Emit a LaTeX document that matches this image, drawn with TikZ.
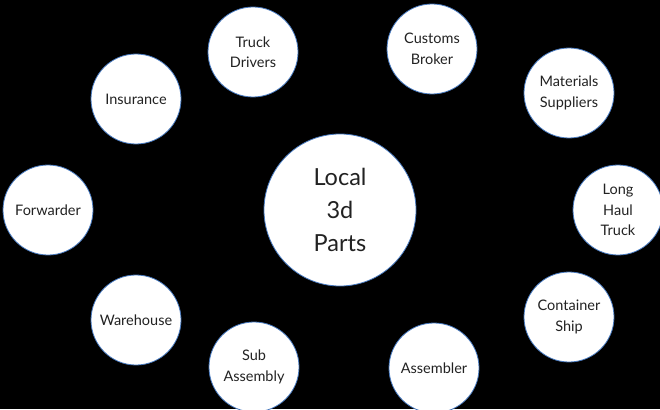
\documentclass[tikz,border=0pt]{standalone}
\usepackage{fontspec}
\setmainfont{Lato}
\usepackage{xcolor}
\usepackage{tikz}
\definecolor{rimblue}{RGB}{70,120,190}
\definecolor{inkgrey}{RGB}{34,34,34}

\begin{document}
\begin{tikzpicture}[
    x=1pt, y=-1pt,
    party/.style={circle, draw=rimblue, line width=0.8pt, fill=white, text=inkgrey, minimum size=90pt, inner sep=1pt, align=center, font=\fontsize{14.5}{20.5}\selectfont},
    hub/.style={party, minimum size=152pt, font=\fontsize{23.5}{33}\selectfont}
  ]

    % Background and frame
    \fill[black] (0,0) rectangle (660,409);
    \clip (0,0) rectangle (660,409);

    % Centre
    \node[hub] (local) at (340,210) {Local\\3d\\Parts};

    % Ring of partners
    \node[party] (drivers) at (253,52) {Truck\\Drivers};
    \node[party] (customs) at (432,49) {Customs\\Broker};
    \node[party] (materials) at (569,93) {Materials\\Suppliers};
    \node[party] (longhaul) at (618,210) {Long\\Haul\\Truck};
    \node[party] (ship) at (569,317) {Container\\Ship};
    \node[party] (assembler) at (434,368) {Assembler};
    \node[party] (subassy) at (254,367) {Sub\\Assembly};
    \node[party] (warehouse) at (136,320) {Warehouse};
    \node[party] (forwarder) at (48,210) {Forwarder};
    \node[party] (insurance) at (136,99) {Insurance};

  \end{tikzpicture}
\end{document}
